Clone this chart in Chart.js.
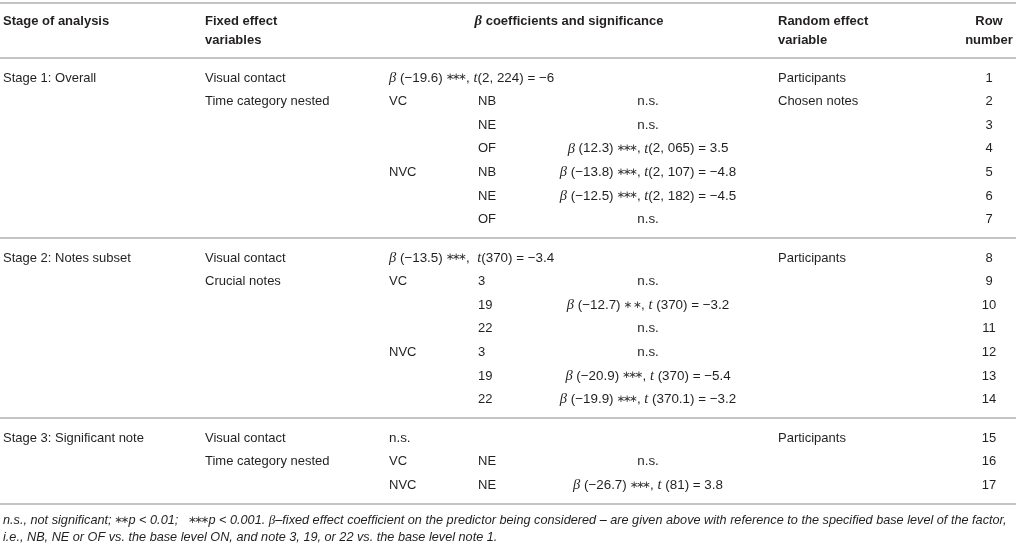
<!DOCTYPE html>
<html>
<head>
<meta charset="utf-8">
<script src="https://cdn.jsdelivr.net/npm/chart.js@4.4.1/dist/chart.umd.min.js"></script>
<style>
  html, body { margin: 0; padding: 0; background: #ffffff; }
  #wrap { width: 1016px; height: 545px; }
</style>
</head>
<body>
<div id="wrap"><canvas id="table" width="1016" height="545"></canvas></div>
<script>
// ── Table content ───────────────────────────────────────────────────────────

const headerTop    = ['Stage of analysis', 'Fixed effect', 'β coefficients and significance', 'Random effect', 'Row'];
const headerBottom = ['', 'variables', '', 'variable', 'number'];

const stages     = ['Stage 1: Overall', 'Stage 2: Notes subset', 'Stage 3: Significant note'];
const stageSizes = [7, 7, 3];

const fixedEffects = [
  'Visual contact', 'Time category nested', '', '', '', '', '',
  'Visual contact', 'Crucial notes', '', '', '', '', '',
  'Visual contact', 'Time category nested', ''
];
const contactLevels = [
  '', 'VC', '', '', 'NVC', '', '',
  '', 'VC', '', '', 'NVC', '', '',
  '', 'VC', 'NVC'
];
const subLevels = [
  '', 'NB', 'NE', 'OF', 'NB', 'NE', 'OF',
  '', '3', '19', '22', '3', '19', '22',
  '', 'NE', 'NE'
];
const coefficients = [
  'β (−19.6) ∗∗∗, t(2, 224) = −6',
  'n.s.',
  'n.s.',
  'β (12.3) ∗∗∗, t(2, 065) = 3.5',
  'β (−13.8) ∗∗∗, t(2, 107) = −4.8',
  'β (−12.5) ∗∗∗, t(2, 182) = −4.5',
  'n.s.',
  'β (−13.5) ∗∗∗,  t(370) = −3.4',
  'n.s.',
  'β (−12.7) ∗ ∗, t (370) = −3.2',
  'n.s.',
  'n.s.',
  'β (−20.9) ∗∗∗, t (370) = −5.4',
  'β (−19.9) ∗∗∗, t (370.1) = −3.2',
  'n.s.',
  'n.s.',
  'β (−26.7) ∗∗∗, t (81) = 3.8'
];
const randomEffects = [
  'Participants', 'Chosen notes', '', '', '', '', '',
  'Participants', '', '', '', '', '', '',
  'Participants', '', ''
];
const rowNumbers = ['1', '2', '3', '4', '5', '6', '7', '8', '9', '10', '11', '12', '13', '14', '15', '16', '17'];

const footnotes = [
  'n.s., not significant; ∗∗p < 0.01;   ∗∗∗p < 0.001. β–fixed effect coefficient on the predictor being considered – are given above with reference to the specified base level of the factor,',
  'i.e., NB, NE or OF vs. the base level ON, and note 3, 19, or 22 vs. the base level note 1.'
];

// ── Layout (row units on y, px on x) ───────────────────────────────────────

const ROW_PX    = 23.6;     // px per row unit
const FIRST_ROW = 78;       // px of row 1 centre
const GROUP_GAP = 0.627;    // extra row units between stages
const RULE_OFF  = 0.78;     // rule below a stage's last row

const COL = { stage: 3, fixed: 205, contact: 389, level: 478, coef: 648, random: 778, row: 989 };
const HEAD_X = [COL.stage, COL.fixed, 569, COL.random, COL.row];
const HEAD_ALIGN = ['left', 'left', 'center', 'left', 'center'];

const INK   = '#231f20';
const RULE  = '#c4c4c4';
const SANS  = '"Liberation Sans", Arial, Helvetica, sans-serif';
const SERIF = '"Liberation Serif", "DejaVu Serif", serif';
const AST   = '"DejaVu Sans", sans-serif';

const yMin = -FIRST_ROW / ROW_PX;
const yMax = yMin + 545 / ROW_PX;

// row position for each table row
const rowGroup = [];
stageSizes.forEach((n, g) => { for (let k = 0; k < n; k++) rowGroup.push(g); });
const rowPos = rowNumbers.map((_, i) => i + rowGroup[i] * GROUP_GAP);

const stageFirst = [];
const stageLast  = [];
{
  let start = 0;
  stageSizes.forEach(n => { stageFirst.push(start); stageLast.push(start + n - 1); start += n; });
}

// ── Cells as points on the chart scales ─────────────────────────────────────

const cells = [];
const headY1 = -57 / ROW_PX;
const headY2 = -38 / ROW_PX;
headerTop.forEach((t, c) => {
  cells.push({ x: HEAD_X[c], y: headY1, text: t, align: HEAD_ALIGN[c], kind: 'head' });
  if (headerBottom[c]) cells.push({ x: HEAD_X[c], y: headY2, text: headerBottom[c], align: HEAD_ALIGN[c], kind: 'head' });
});
stages.forEach((s, g) => {
  cells.push({ x: COL.stage, y: rowPos[stageFirst[g]], text: s, align: 'left', kind: 'body' });
});
rowNumbers.forEach((rn, i) => {
  const y = rowPos[i];
  if (fixedEffects[i])  cells.push({ x: COL.fixed,   y, text: fixedEffects[i],  align: 'left', kind: 'body' });
  if (contactLevels[i]) cells.push({ x: COL.contact, y, text: contactLevels[i], align: 'left', kind: 'body' });
  if (subLevels[i])     cells.push({ x: COL.level,   y, text: subLevels[i],     align: 'left', kind: 'body' });
  const nested = subLevels[i] !== '';
  cells.push({ x: nested ? COL.coef : COL.contact, y, text: coefficients[i], align: nested ? 'center' : 'left', kind: 'math' });
  if (randomEffects[i]) cells.push({ x: COL.random, y, text: randomEffects[i], align: 'left', kind: 'body' });
  cells.push({ x: COL.row, y, text: rn, align: 'center', kind: 'body' });
});
const noteY0 = rowPos[rowPos.length - 1] + RULE_OFF;
footnotes.forEach((t, k) => {
  cells.push({ x: COL.stage, y: noteY0 + 0.72 + k * 0.72, text: t, align: 'left', kind: 'note' });
});

// ── Text helpers ────────────────────────────────────────────────────────────

function segmentsOf(text, kind) {
  if (kind === 'body') return [{ s: text }];
  const out = [];
  const re = /(β|t(?= ?\()|∗+(?: ∗+)*)/g;
  let last = 0, m;
  while ((m = re.exec(text)) !== null) {
    if (m.index > last) out.push({ s: text.slice(last, m.index) });
    out.push({ s: m[0], math: m[0][0] !== '∗', ast: m[0][0] === '∗' });
    last = m.index + m[0].length;
  }
  if (last < text.length) out.push({ s: text.slice(last) });
  return out;
}

function fontFor(seg, kind) {
  const bold = kind === 'head' ? 'bold ' : '';
  if (seg.ast) return `10.5px ${AST}`;
  if (kind === 'note') return seg.math ? `italic 13px ${SERIF}` : `italic 12.7px ${SANS}`;
  if (seg.math) return `${bold}italic 14.5px ${SERIF}`;
  if (kind === 'math') return `13.4px ${SANS}`;
  return `${bold}13px ${SANS}`;
}

const AST_STEP = 6.2;
const AST_GAP  = 3.4;

function segWidth(ctx, sg) {
  if (!sg.ast) return ctx.measureText(sg.s).width;
  let w = 0;
  for (const ch of sg.s) w += ch === ' ' ? AST_GAP : AST_STEP;
  return w + 1;
}

function drawRich(ctx, text, kind, x, y, align) {
  const segs = segmentsOf(text, kind);
  let total = 0;
  segs.forEach(sg => { ctx.font = fontFor(sg, kind); sg.w = segWidth(ctx, sg); total += sg.w; });
  let cx = align === 'center' ? x - total / 2 : align === 'right' ? x - total : x;
  segs.forEach(sg => {
    ctx.font = fontFor(sg, kind);
    if (sg.ast) {
      let ax = cx + 0.5;
      ctx.textAlign = 'center';
      ctx.fillStyle = '#3a3637';
      for (const ch of sg.s) {
        if (ch === ' ') { ax += AST_GAP; continue; }
        ctx.fillText(ch, ax + AST_STEP / 2, y - 0.3);
        ax += AST_STEP;
      }
      ctx.fillStyle = INK;
      ctx.textAlign = 'left';
    } else {
      ctx.fillText(sg.s, cx, y);
    }
    cx += sg.w;
  });
}

// ── Plugin: rules and cell text ─────────────────────────────────────────────

const tablePlugin = {
  id: 'tableText',
  beforeDraw(chart) {
    const { ctx, scales: { x: xs, y: ys } } = chart;
    ctx.save();
    ctx.fillStyle = '#ffffff';
    ctx.fillRect(0, 0, chart.width, chart.height);
    ctx.strokeStyle = RULE;
    ctx.lineWidth = 2;
    const rules = [-75 / ROW_PX, rowPos[0] - 0.847];
    stageLast.forEach(i => rules.push(rowPos[i] + RULE_OFF));
    rules.forEach(v => {
      const py = Math.round(ys.getPixelForValue(v));
      ctx.beginPath();
      ctx.moveTo(xs.getPixelForValue(0), py);
      ctx.lineTo(xs.getPixelForValue(1016), py);
      ctx.stroke();
    });
    ctx.restore();
  },
  afterDatasetsDraw(chart) {
    const { ctx } = chart;
    const meta = chart.getDatasetMeta(0);
    ctx.save();
    ctx.fillStyle = INK;
    ctx.textBaseline = 'middle';
    ctx.textAlign = 'left';
    meta.data.forEach((pt, i) => {
      const c = chart.data.datasets[0].data[i];
      drawRich(ctx, c.text, c.kind, pt.x, pt.y, c.align);
    });
    ctx.restore();
  }
};

/* global Chart */
new Chart(document.getElementById('table'), {
  type: 'scatter',
  data: {
    datasets: [{
      data: cells,
      pointRadius: 0,
      pointHoverRadius: 0,
      showLine: false
    }]
  },
  options: {
    responsive: false,
    animation: false,
    events: [],
    layout: { padding: 0 },
    plugins: { legend: { display: false }, tooltip: { enabled: false } },
    scales: {
      x: { type: 'linear', min: 0, max: 1016, display: false },
      y: { type: 'linear', min: yMin, max: yMax, reverse: true, display: false }
    }
  },
  plugins: [tablePlugin]
});
</script>
</body>
</html>
